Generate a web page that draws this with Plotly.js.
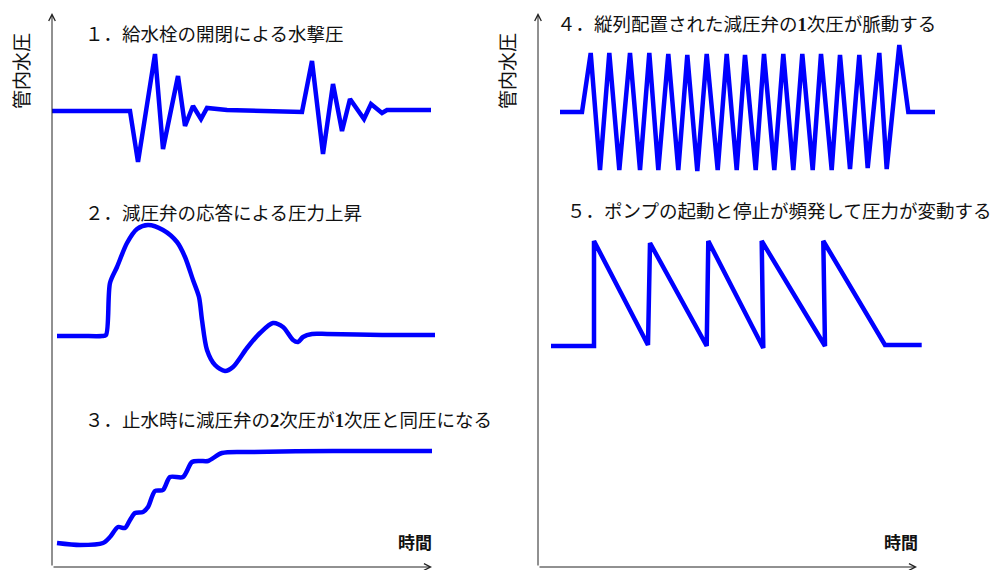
<!DOCTYPE html>
<html>
<head>
<meta charset="utf-8">
<script src="https://cdn.plot.ly/plotly-3.0.1.min.js"></script>
<style>html,body{margin:0;padding:0;background:#fff;}#chart{width:996px;height:570px;}</style>
</head>
<body>
<div id="chart"></div>
<script>
// ---- data (time / pressure in arbitrary schematic units) ----
// Left panel
const c1Time = [0, 78, 86, 103, 111, 126, 133, 141, 149, 155, 175, 250, 260, 271, 281, 290, 298, 312, 319, 330, 335, 379];
const c1Pres = [456, 456, 405, 513, 418, 491, 441, 461, 448, 459, 457, 455, 506, 413, 483, 436, 468, 448, 463, 454, 457, 457];

const c2Time = [5, 30, 50, 54, 58, 65, 75, 85, 96, 111, 125, 133, 141, 147, 150, 155, 163, 173, 181, 195, 208, 221, 231, 241, 246, 251, 260, 275, 330, 383];
const c2Pres = [231, 231, 231, 232, 284, 300, 324, 338, 342, 337, 325, 310, 287, 270, 247, 217, 202, 196, 200, 219, 234, 244, 240, 227, 225, 230, 233, 233, 232, 232];

const c3Time = [5, 28, 51, 58, 66, 73, 78, 83, 91, 96, 103, 111, 118, 131, 140, 148, 156, 170, 198, 281, 380];
const c3Pres = [24, 22, 24, 30, 40, 39, 47, 54, 55, 60, 76, 77, 90, 90, 105, 106, 106, 114, 115, 116, 116];

// Right panel
const c4Time = [22, 44, 52.7, 62, 71.3, 81.3, 92, 102, 111.3, 120.3, 130.3, 140.3, 149.3, 159.3, 168.7, 179.7, 188.7, 198.7, 207, 217.7, 226, 236.3, 245.3, 255.3, 264.3, 274.7, 283, 293.7, 302, 312, 321.3, 329.7, 341.3, 348.7, 361.3, 370.3, 397];
const c4Pres = [455, 455, 514, 397, 514, 397, 514, 397, 514, 397, 513, 397, 512, 396, 513, 397, 513, 397, 512, 397, 513, 397, 513, 397, 513, 397, 513, 397, 512, 398, 512, 399, 514, 398, 522, 455, 455];

const c5Time = [13, 56, 56, 110, 112, 168.7, 170.3, 225.3, 223.7, 287, 285.3, 347, 383.7];
const c5Pres = [221, 221, 326, 222, 324, 221, 326, 219, 326, 221, 326, 222, 222];

const panelTitles = [
  '１．給水栓の開閉による水撃圧',
  '２．減圧弁の応答による圧力上昇',
  '３．止水時に減圧弁の<b><span style="font-family:\'Liberation Serif\'">2</span></b>次圧が<b><span style="font-family:\'Liberation Serif\'">1</span></b>次圧と同圧になる',
  '４．縦列配置された減圧弁の<b><span style="font-family:\'Liberation Serif\'">1</span></b>次圧が脈動する',
  '５．ポンプの起動と停止が頻発して圧力が変動する'
];
const yLabel = '管内水圧';
const xLabel = '時間';

// ---- figure ----
const W = 996, H = 570;
const blue = '#0000ff';
const lineStyle = {color: blue, width: 4.5};

const traces = [
  {x: c1Time, y: c1Pres, xaxis: 'x', yaxis: 'y', mode: 'lines', line: Object.assign({}, lineStyle, {shape: 'linear'})},
  {x: c2Time, y: c2Pres, xaxis: 'x', yaxis: 'y', mode: 'lines', line: Object.assign({}, lineStyle, {shape: 'spline', smoothing: 0.8})},
  {x: c3Time, y: c3Pres, xaxis: 'x', yaxis: 'y', mode: 'lines', line: Object.assign({}, lineStyle, {shape: 'spline', smoothing: 0.8})},
  {x: c4Time, y: c4Pres, xaxis: 'x2', yaxis: 'y2', mode: 'lines', line: Object.assign({}, lineStyle, {shape: 'linear'})},
  {x: c5Time, y: c5Pres, xaxis: 'x2', yaxis: 'y2', mode: 'lines', line: Object.assign({}, lineStyle, {shape: 'linear'})}
];

const hidden = {visible: true, showgrid: false, zeroline: false, showline: false, showticklabels: false, ticks: '', fixedrange: true};
const yDom = [3 / H, 557 / H];

const titleFont = {family: '"Noto Sans CJK JP", sans-serif', size: 18.5, color: '#111'};
function title(text, xref, yref, x, y) {
  return {text: text, xref: xref, yref: yref, x: x, y: y, xanchor: 'left', yanchor: 'middle', showarrow: false, font: titleFont};
}
function arrow(xref, yref, x, y, ax, ay) {
  return {text: '', xref: xref, yref: yref, x: x, y: y, ax: ax, ay: ay, axref: 'pixel', ayref: 'pixel',
          showarrow: true, arrowhead: 5, arrowsize: 1.3, arrowwidth: 1, arrowcolor: '#222'};
}
const labelFont = {family: '"Noto Sans CJK JP", sans-serif', size: 19, color: '#111'};

const annotations = [
  arrow('x', 'y', 0, 554, 0, 554),
  arrow('x', 'y', 380, 0, -380, 0),
  arrow('x2', 'y2', 0, 554, 0, 554),
  arrow('x2', 'y2', 379, 0, -379, 0),
  title(panelTitles[0], 'x', 'y', 31, 534),
  title(panelTitles[1], 'x', 'y', 31, 355),
  title(panelTitles[2], 'x', 'y', 31, 148),
  title(panelTitles[3], 'x2', 'y2', 17, 544),
  title(panelTitles[4], 'x2', 'y2', 27, 357),
  {text: yLabel, xref: 'paper', yref: 'paper', x: 20 / W, y: (H - 71) / H, textangle: -90, showarrow: false,
   xanchor: 'center', yanchor: 'middle', font: labelFont},
  {text: yLabel, xref: 'paper', yref: 'paper', x: 506 / W, y: (H - 71) / H, textangle: -90, showarrow: false,
   xanchor: 'center', yanchor: 'middle', font: labelFont},
  {text: '<b>' + xLabel + '</b>', xref: 'paper', yref: 'paper', x: 415 / W, y: (H - 541) / H, showarrow: false,
   xanchor: 'center', yanchor: 'middle', font: {family: '"Noto Sans CJK JP", sans-serif', size: 17, color: '#111'}},
  {text: '<b>' + xLabel + '</b>', xref: 'paper', yref: 'paper', x: 901 / W, y: (H - 541) / H, showarrow: false,
   xanchor: 'center', yanchor: 'middle', font: {family: '"Noto Sans CJK JP", sans-serif', size: 17, color: '#111'}}
];

const layout = {
  width: W, height: H,
  margin: {l: 0, r: 0, t: 0, b: 0, pad: 0},
  paper_bgcolor: '#fff', plot_bgcolor: 'rgba(0,0,0,0)',
  showlegend: false,
  xaxis: Object.assign({}, hidden, {domain: [52 / W, 496 / W], range: [0, 444]}),
  yaxis: Object.assign({}, hidden, {domain: yDom, range: [0, 554]}),
  xaxis2: Object.assign({}, hidden, {domain: [538 / W, 1], range: [0, 458], anchor: 'y2'}),
  yaxis2: Object.assign({}, hidden, {domain: yDom, range: [0, 554], anchor: 'x2'}),
  annotations: annotations
};

Plotly.newPlot('chart', traces, layout, {staticPlot: true, displayModeBar: false});
</script>
</body>
</html>
